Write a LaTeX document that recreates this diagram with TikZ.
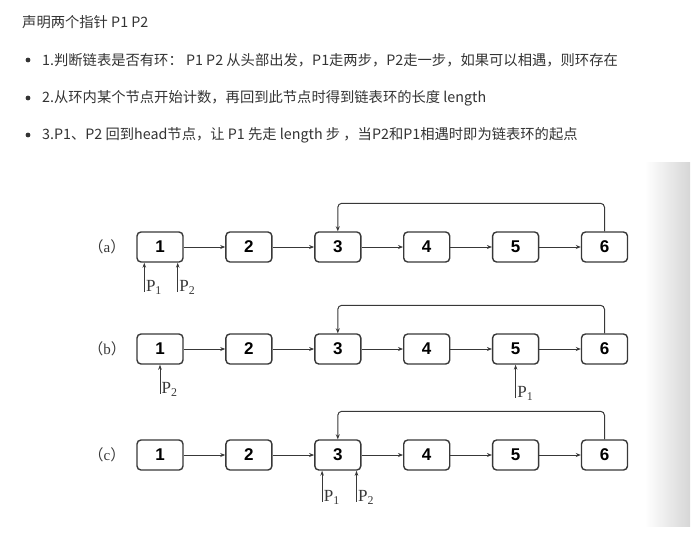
\documentclass[tikz,border=0pt]{standalone}
\usepackage{fontspec}
\setmainfont{Liberation Serif}
\setsansfont{Liberation Sans}
\newfontfamily\cjk{Noto Sans CJK SC}
\usetikzlibrary{arrows.meta,positioning}
\definecolor{txtgray}{HTML}{333333}
\definecolor{linegray}{HTML}{383838}

\begin{document}
\begin{tikzpicture}[x=1pt,y=-1pt,
  node distance=41.5pt,
  lnode/.style={draw=linegray,line width=1.4pt,rounded corners=4pt,minimum width=46pt,
    minimum height=30pt,inner sep=0pt,font=\sffamily\bfseries\fontsize{17}{17}\selectfont},
  nxt/.style={-{Stealth[length=5pt,width=4pt]},line width=1pt,draw=linegray},
  ptr/.style={-{Stealth[length=5pt,width=3.5pt]},line width=1pt,draw=linegray},
  plabel/.style={anchor=base west,inner sep=1.5pt,text=linegray,font=\fontsize{17}{17}\selectfont},
  rowlabel/.style={text=linegray,font=\fontsize{15}{15}\selectfont},
  txt/.style={anchor=west,inner sep=0pt,text=txtgray,font=\cjk\fontsize{14.3}{14.3}\selectfont}]
  \useasboundingbox (0,0) rectangle (695,536);
  \shade[left color=white,right color=gray!32] (645,162) rectangle (690,526);

  \node [txt] (head) at (22,22) {声明两个指针 P1 P2};
  \foreach \y/\t [count=\i] in {60/{1.判断链表是否有环： P1 P2 从头部出发，P1走两步，P2走一步，如果可以相遇，则环存在},
      98/{2.从环内某个节点开始计数，再回到此节点时得到链表环的长度 length},
      135/{3.P1、P2 回到head节点，让 P1 先走 length 步 ，当P2和P1相遇时即为链表环的起点}} {
    \fill [txtgray] (28,\y) circle (2.4pt);
    \node [txt] (item\i) at (42,\y) {\t};
  }

  \foreach \r/\y/\l in {a/247/a,b/349/b,c/455/c} {
    \node [rowlabel] (lab\r) at (107,\y) {{\cjk （}\l{\cjk ）}};
    \node [lnode] (\r1) at (160,\y) {1};
    \node [lnode,right=of \r1] (\r2) {2};
    \node [lnode,right=of \r2] (\r3) {3};
    \node [lnode,right=of \r3] (\r4) {4};
    \node [lnode,right=of \r4] (\r5) {5};
    \node [lnode,right=of \r5] (\r6) {6};
    \foreach \i [count=\j from 2] in {1,...,5}
      \draw [nxt] (\r\i) -- (\r\j);
    \draw [nxt,rounded corners=4pt] (\r6.north) -- ++(0,-28) -| (\r3.north);
  }

  \coordinate (pa1) at ([xshift=8pt,yshift=-29pt]a1.south west);
  \coordinate (pa2) at ([xshift=-6pt,yshift=-29pt]a1.south east);
  \draw [ptr] (pa1) -- (pa1 |- a1.south);
  \draw [ptr] (pa2) -- (pa2 |- a1.south);
  \node [plabel] (la1) at (pa1) {P\textsubscript{1}};
  \node [plabel] (la2) at (pa2) {P\textsubscript{2}};

  \coordinate (pb2) at ([yshift=-29pt]b1.south);
  \coordinate (pb1) at ([yshift=-33pt]b5.south);
  \draw [ptr] (pb2) -- (b1.south);
  \draw [ptr] (pb1) -- (b5.south);
  \node [plabel] (lb2) at (pb2) {P\textsubscript{2}};
  \node [plabel] (lb1) at (pb1) {P\textsubscript{1}};

  \coordinate (pc1) at ([xshift=8pt,yshift=-31pt]c3.south west);
  \coordinate (pc2) at ([xshift=-5pt,yshift=-31pt]c3.south east);
  \draw [ptr] (pc1) -- (pc1 |- c3.south);
  \draw [ptr] (pc2) -- (pc2 |- c3.south);
  \node [plabel] (lc1) at (pc1) {P\textsubscript{1}};
  \node [plabel] (lc2) at (pc2) {P\textsubscript{2}};
\end{tikzpicture}
\end{document}
